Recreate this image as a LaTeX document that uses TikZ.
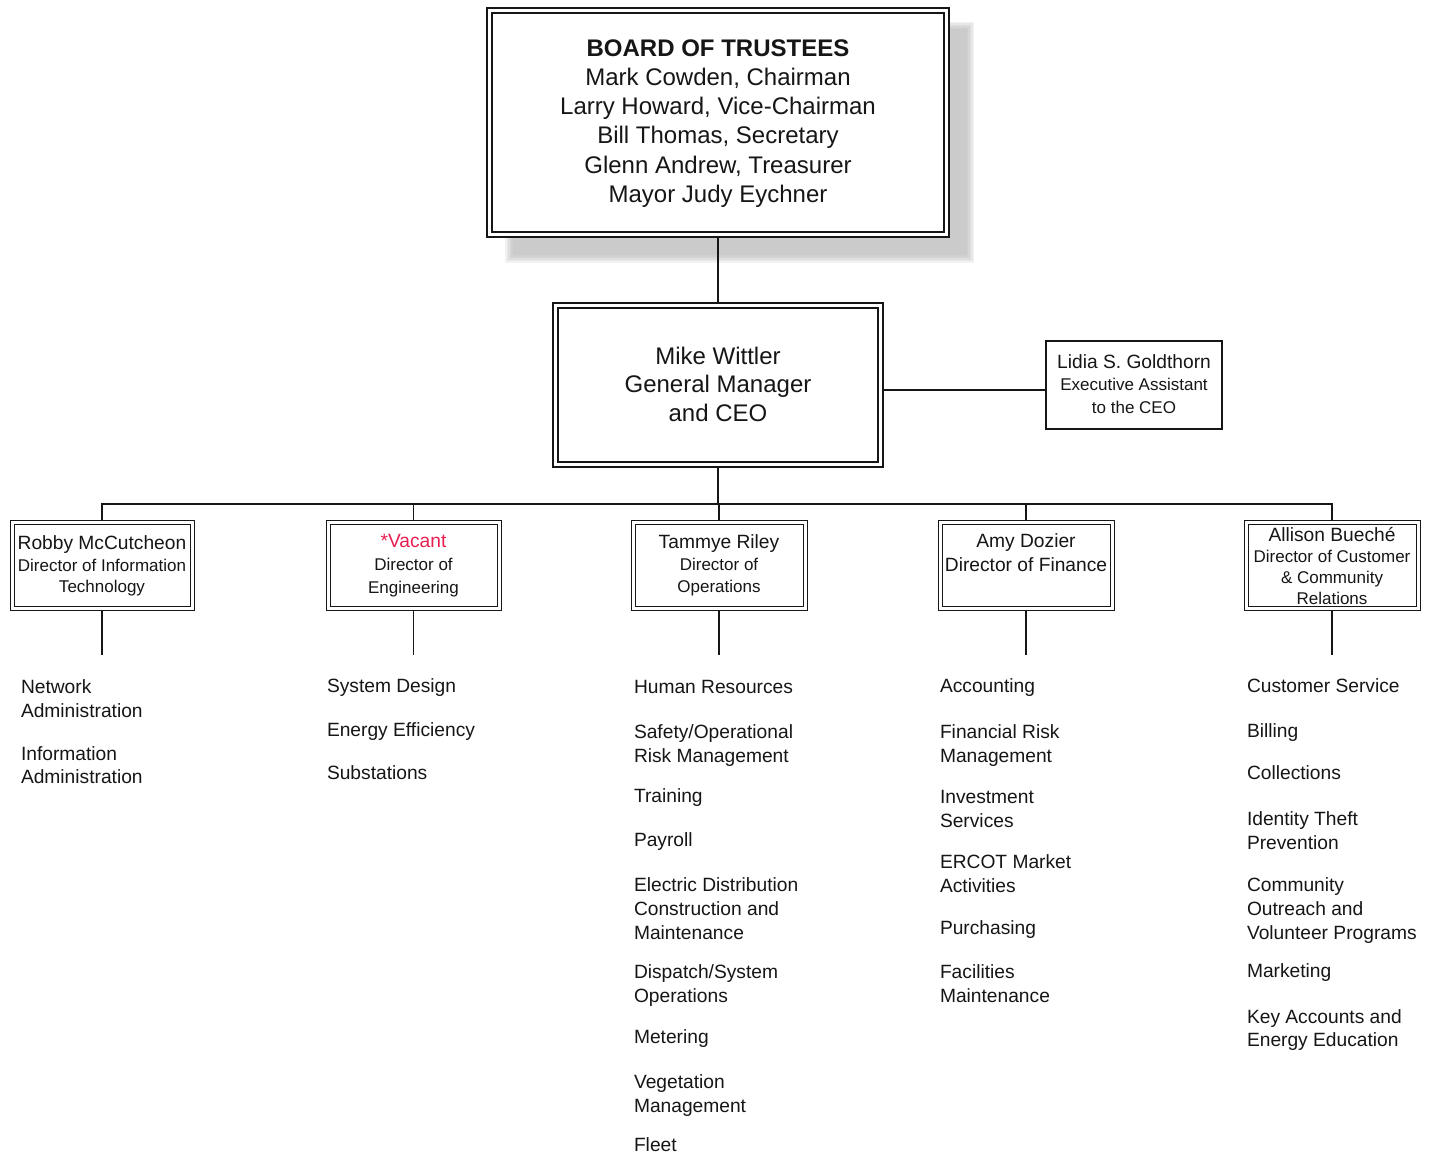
\documentclass[tikz,border=0pt]{standalone}
\usepackage{fontspec}
\setmainfont{Liberation Sans}
\pgfdeclarelayer{shade}
\pgfdeclarelayer{wires}
\pgfsetlayers{shade,wires,main}
\definecolor{ink}{RGB}{22,22,22}
\definecolor{vacantred}{RGB}{232,30,80}

\begin{document}
\begin{tikzpicture}[x=0.5pt,y=-0.5pt,
  every node/.style={inner sep=0pt, outer sep=0pt, text=ink},
  wire/.style={draw=ink, line width=0.55pt},
  bigbox/.style={draw=ink, fill=white, double=white, double distance=1.8pt,
    line width=0.7pt},
  dirbox/.style={draw=ink, fill=white, double=white, double distance=1.5pt,
    line width=0.5pt, minimum width=86pt, minimum height=42.5pt},
  plainbox/.style={draw=ink, fill=white, line width=0.6pt},
  bigtext/.style={align=center, font=\fontsize{12}{14.6}\selectfont},
  dirtext/.style={align=center, font=\fontsize{8.5}{10.9}\selectfont},
  duty/.style={anchor=base west, font=\fontsize{9.6}{12}\selectfont}]

\useasboundingbox (0,0) rectangle (1434,1154);

% Board of trustees and general manager
\node[bigbox, minimum width=228.5pt, minimum height=112pt] (board) at (718,122.5) {};
\node[bigtext] (boardtext) at (718,123.5)
  {{\bfseries BOARD OF TRUSTEES}\\ Mark Cowden, Chairman\\ Larry Howard, Vice-Chairman\\
   Bill Thomas, Secretary\\ Glenn Andrew, Treasurer\\ Mayor Judy Eychner};

\node[bigbox, minimum width=162.5pt, minimum height=79.5pt] (ceo) at (718,385) {};
\node[bigtext, font=\fontsize{12}{14.25}\selectfont] (ceotext) at (718,384)
  {Mike Wittler\\ General Manager\\ and CEO};

\node[plainbox, minimum width=88pt, minimum height=44pt] (asst) at (1134,385) {};
\node[dirtext, font=\fontsize{8.5}{11.3}\selectfont] (assttext) at (1134,384)
  {{\fontsize{9.6}{11}\selectfont Lidia S. Goldthorn}\\ Executive Assistant\\ to the CEO};

% Directors
\node[dirbox, minimum width=90pt] (d1) at (102,565.5) {};
\node[dirbox, minimum width=85.5pt] (d2) at (413.5,565.5) {};
\node[dirbox] (d3) at (719,565.5) {};
\node[dirbox] (d4) at (1026,565.5) {};
\node[dirbox] (d5) at (1332,565.5) {};

\node[dirtext] (t1) at (102,566)
  {{\fontsize{9.6}{11}\selectfont Robby McCutcheon}\\ Director of Information\\ Technology};
\node[dirtext, font=\fontsize{8.5}{11.5}\selectfont] (t2) at (413.5,566)
  {{\fontsize{9.6}{11}\selectfont\color{vacantred}*Vacant}\\ Director of\\ Engineering};
\node[dirtext, font=\fontsize{8.5}{11}\selectfont] (t3) at (719,565)
  {{\fontsize{9.6}{11}\selectfont Tammye Riley}\\ Director of\\ Operations};
\node[dirtext, font=\fontsize{9.6}{12}\selectfont] (t4) at (1026,553)
  {Amy Dozier\\ Director of Finance};
\node[dirtext, font=\fontsize{8.5}{10.6}\selectfont] (t5) at (1332,566)
  {{\fontsize{9.6}{11}\selectfont Allison Bueché}\\ Director of Customer\\ \& Community\\ Relations};

% Page background and the soft drop shadow behind the board box
\begin{pgfonlayer}{shade}
  \fill[white] (0,0) rectangle (1434,1154);
  \foreach \k in {0,1.5,3,4.5,6,7.5} {
    \fill[black!30, opacity=0.16] (505+\k,22+\k) rectangle (974-\k,263-\k);
  }
\end{pgfonlayer}

% Reporting lines
\begin{pgfonlayer}{wires}
  \coordinate (asstline) at (0,390);
  \coordinate (bus) at (718,504);
  \coordinate (stubend) at (0,655);
  \draw[wire] (board.south) -- (ceo.north);
  \draw[wire] (ceo.east |- asstline) -- (asst.west |- asstline);
  \draw[wire] (ceo.south) -- (bus);
  \draw[wire] (d1.north) |- (bus) -| (d5.north);
  \foreach \d in {d2,d3,d4} \draw[wire] (\d.north) -- (\d.north |- bus);
  \foreach \d in {d1,d2,d3,d4,d5} \draw[wire] (\d.south) -- (\d.south |- stubend);
\end{pgfonlayer}

% Departments under each director
\foreach \y/\t in {686/Network, 710/Administration, 753/Information, 776/Administration}
  \node[duty] (c1-\y) at (21,\y+7) {\t};
\foreach \y/\t in {685/System Design, 729/Energy Efficiency, 772/Substations}
  \node[duty] (c2-\y) at (327,\y+7) {\t};
\foreach \y/\t in {686/Human Resources, 731/{Safety\slash Operational}, 755/Risk Management,
    795/Training, 839/Payroll, 884/Electric Distribution, 908/Construction and,
    932/Maintenance, 971/{Dispatch\slash System}, 995/Operations, 1036/Metering,
    1081/Vegetation, 1105/Management, 1144/Fleet}
  \node[duty] (c3-\y) at (634,\y+7) {\t};
\foreach \y/\t in {685/Accounting, 731/Financial Risk, 755/Management, 796/Investment,
    820/Services, 861/ERCOT Market, 885/Activities, 927/Purchasing, 971/Facilities,
    995/Maintenance}
  \node[duty] (c4-\y) at (940,\y+7) {\t};
\foreach \y/\t in {685/Customer Service, 730/Billing, 772/Collections, 818/Identity Theft,
    842/Prevention, 884/Community, 908/Outreach and, 932/Volunteer Programs,
    970/Marketing, 1016/Key Accounts and, 1039/Energy Education}
  \node[duty] (c5-\y) at (1247,\y+7) {\t};

\end{tikzpicture}
\end{document}
